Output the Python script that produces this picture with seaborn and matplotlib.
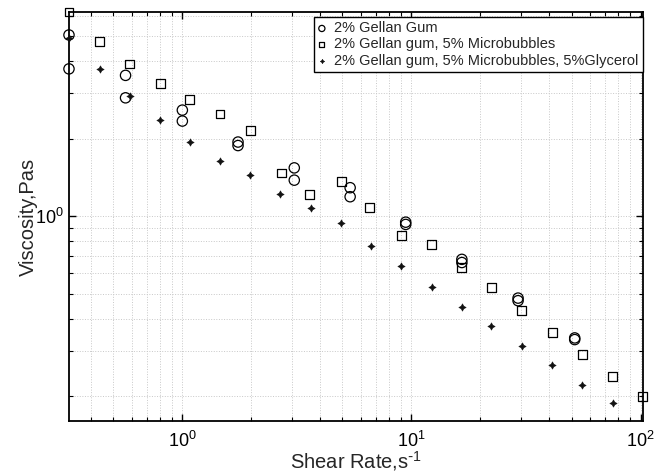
import numpy as np
import pandas as pd
import matplotlib
matplotlib.use("Agg")
import matplotlib.pyplot as plt
import matplotlib.ticker as mticker
import seaborn as sns

# shear rate (1/s) and viscosity (Pa s)
gellan_rate = [0.32, 0.32, 0.565, 0.565, 1.0, 1.0, 1.75, 1.75, 3.08, 3.08,
               5.40, 5.40, 9.44, 9.44, 16.6, 16.6, 29.2, 29.2, 51.6, 51.6]
gellan_visc = [5.05, 3.73, 3.52, 2.88, 2.58, 2.34, 1.94, 1.88, 1.54, 1.38,
               1.29, 1.19, 0.948, 0.929, 0.68, 0.661, 0.481, 0.47, 0.337, 0.332]

mb_rate = [0.32, 0.435, 0.589, 0.80, 1.076, 1.46, 1.99, 2.70, 3.60, 4.95,
           6.55, 9.06, 12.2, 16.6, 22.3, 30.3, 41.2, 55.9, 75.5, 102]
mb_visc = [6.2, 4.76, 3.90, 3.27, 2.83, 2.49, 2.15, 1.47, 1.21, 1.36,
           1.078, 0.844, 0.775, 0.634, 0.529, 0.43, 0.353, 0.291, 0.239, 0.199]

glyc_rate = [0.32, 0.435, 0.589, 0.797, 1.08, 1.46, 1.98, 2.68, 3.65, 4.95,
             6.64, 9.03, 12.3, 16.6, 22.3, 30.3, 41.2, 55.7, 75.5]
glyc_visc = [4.9, 3.71, 2.92, 2.37, 1.94, 1.64, 1.45, 1.22, 1.078, 0.94,
             0.765, 0.642, 0.533, 0.444, 0.374, 0.313, 0.264, 0.222, 0.188]

labels = ["2% Gellan Gum",
          "2% Gellan gum, 5% Microbubbles",
          "2% Gellan gum, 5% Microbubbles, 5%Glycerol"]

sns.set_style("ticks")
plt.rcParams['font.family'] = ['Liberation Sans', 'DejaVu Sans']
plt.rcParams['mathtext.default'] = 'regular'

fig = plt.figure(figsize=(6.62, 4.75), dpi=100)
ax = fig.add_axes([0.1042, 0.1131, 0.8671, 0.8616])

ax.set_xscale('log')
ax.set_yscale('log')

# light dotted grid on major and minor ticks
ax.grid(True, which='both', linestyle=':', color='#c8c8c8', linewidth=0.7)
ax.set_axisbelow(True)

df_g = pd.DataFrame({'rate': gellan_rate, 'visc': gellan_visc})
df_m = pd.DataFrame({'rate': mb_rate, 'visc': mb_visc})
df_c = pd.DataFrame({'rate': glyc_rate, 'visc': glyc_visc})

sns.scatterplot(data=df_g, x='rate', y='visc', ax=ax, marker='o', s=55,
                facecolors='none', edgecolors='black', linewidths=0.9,
                label=labels[0], clip_on=False, zorder=3)
sns.scatterplot(data=df_m, x='rate', y='visc', ax=ax, marker='s', s=40,
                facecolors='none', edgecolors='black', linewidths=0.9,
                label=labels[1], clip_on=False, zorder=3)
sns.scatterplot(data=df_c, x='rate', y='visc', ax=ax, marker=(4, 1, 0), s=28,
                color='#111111', edgecolors='#111111', linewidths=0.4,
                label=labels[2], clip_on=False, zorder=3)

ax.set_xlim(0.32, 102.5)
ax.set_ylim(0.16, 6.2)

ax.xaxis.set_major_locator(mticker.LogLocator(base=10))
ax.xaxis.set_minor_locator(mticker.LogLocator(base=10, subs=np.arange(2, 10)))
ax.yaxis.set_major_locator(mticker.LogLocator(base=10))
ax.yaxis.set_minor_locator(mticker.LogLocator(base=10, subs=np.arange(2, 10)))
ax.xaxis.set_minor_formatter(mticker.NullFormatter())
ax.yaxis.set_minor_formatter(mticker.NullFormatter())

ax.tick_params(which='both', direction='in', top=True, right=True,
               colors='black', labelsize=13)
ax.tick_params(which='major', length=5, width=1.0)
ax.tick_params(which='minor', length=3, width=0.8)
ax.tick_params(axis='x', pad=7)

for sp in ax.spines.values():
    sp.set_linewidth(1.3)
    sp.set_color('black')

ax.set_xlabel('Shear Rate,s$^{\\text{-}1}$', fontsize=14.5, labelpad=-1.5)
ax.set_ylabel('Viscosity,Pas', fontsize=14.5, labelpad=-2)

leg = ax.legend(loc='upper right', bbox_to_anchor=(1.0, 0.988), borderaxespad=0,
                fontsize=10.5, frameon=True, fancybox=False, framealpha=1,
                edgecolor='black', handlelength=0.5, handletextpad=0.6,
                borderpad=0.3, labelspacing=0.15, markerscale=0.6)
leg.get_frame().set_linewidth(1.0)

fig.savefig('out.png', dpi=100)
